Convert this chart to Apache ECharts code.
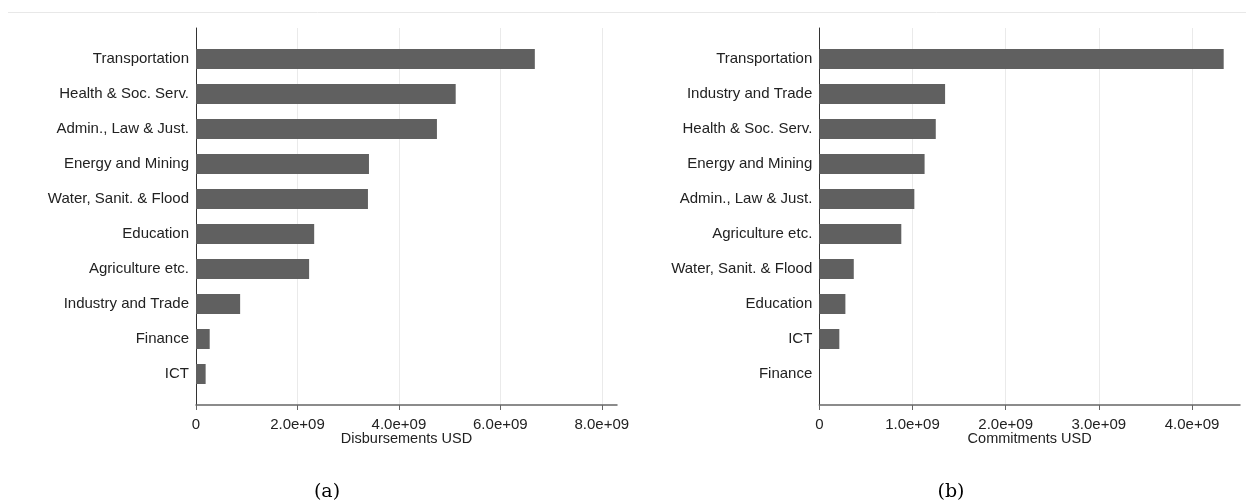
<!DOCTYPE html>
<html>
<head>
<meta charset="utf-8">
<script src="https://cdn.jsdelivr.net/npm/echarts@6/dist/echarts.min.js"></script>
<style>
  html, body { margin: 0; padding: 0; background: #fff; }
  #chart { width: 1246px; height: 503px; }
</style>
</head>
<body>
<div id="chart"></div>
<script>
// panel (a): disbursements, top to bottom
var sectorsA = ["Transportation", "Health & Soc. Serv.", "Admin., Law & Just.", "Energy and Mining",
  "Water, Sanit. & Flood", "Education", "Agriculture etc.", "Industry and Trade", "Finance", "ICT"];
var disbursements = [6.68e9, 5.12e9, 4.75e9, 3.41e9, 3.39e9, 2.33e9, 2.23e9, 0.87e9, 0.27e9, 0.19e9];

// panel (b): commitments, top to bottom
var sectorsB = ["Transportation", "Industry and Trade", "Health & Soc. Serv.", "Energy and Mining",
  "Admin., Law & Just.", "Agriculture etc.", "Water, Sanit. & Flood", "Education", "ICT", "Finance"];
var commitments = [4.34e9, 1.35e9, 1.25e9, 1.13e9, 1.02e9, 0.88e9, 0.37e9, 0.28e9, 0.215e9, 0];

var captions = ["(a)", "(b)"];

var barColor = "#606060";
var textColor = "#222";
var font = "Liberation Sans, Arial, sans-serif";

function sci(v) {
  if (v === 0) return "0";
  return (v / 1e9).toFixed(1) + "e+09";
}

// axis grid: ticks, labels, gridlines, y axis line
function tickAxis(gridIndex, max, interval) {
  return {
    type: "value", gridIndex: gridIndex, min: 0, max: max, interval: interval,
    axisLine: { show: false },
    axisTick: { show: true, length: 5, lineStyle: { color: "#666" } },
    axisLabel: { margin: 12, color: textColor, fontSize: 15, fontFamily: font, formatter: sci },
    splitLine: { show: true, lineStyle: { color: "#eaeaea", width: 1 } }
  };
}
// bar grid: the x axis line and its title
function barAxis(gridIndex, max, name) {
  return {
    type: "value", gridIndex: gridIndex, min: 0, max: max, offset: 13.5,
    name: name, nameLocation: "middle", nameGap: 26,
    nameTextStyle: { color: textColor, fontSize: 14.5, fontFamily: font },
    axisLine: { show: true, onZero: false, lineStyle: { color: "#666", width: 1.5 } },
    axisTick: { show: false },
    axisLabel: { show: false },
    splitLine: { show: false }
  };
}
function frameY(gridIndex) {
  return {
    type: "value", gridIndex: gridIndex, min: 0, max: 1,
    axisLine: { show: true, lineStyle: { color: "#333", width: 1 } },
    axisTick: { show: false }, axisLabel: { show: false }, splitLine: { show: false }
  };
}
function catY(gridIndex, cats) {
  return {
    type: "category", gridIndex: gridIndex, data: cats, inverse: true,
    axisLine: { show: false }, axisTick: { show: false },
    axisLabel: { margin: 7, padding: [5, 0, 0, 0], color: textColor, fontSize: 15, fontFamily: font },
    splitLine: { show: false }
  };
}

var myChart = echarts.init(document.getElementById("chart"));
myChart.setOption({
  animation: false,
  backgroundColor: "#fff",
  title: [
    { text: captions[0], left: 322, top: 478, textAlign: "center",
      textStyle: { fontFamily: "DejaVu Serif, serif", fontWeight: "normal", fontSize: 19, color: "#000" } },
    { text: captions[1], left: 946, top: 478, textAlign: "center",
      textStyle: { fontFamily: "DejaVu Serif, serif", fontWeight: "normal", fontSize: 19, color: "#000" } }
  ],
  graphic: [
    { type: "line", shape: { x1: 8, y1: 12.5, x2: 1246, y2: 12.5 }, style: { stroke: "#e8e8e8", lineWidth: 1 } }
  ],
  grid: [
    { left: 196, right: 644.2, top: 28, bottom: 98 },
    { left: 196, right: 629, top: 41.5, bottom: 111.5 },
    { left: 819.3, right: 54, top: 28, bottom: 98 },
    { left: 819.3, right: 6, top: 41.5, bottom: 111.5 }
  ],
  xAxis: [
    tickAxis(0, 8e9, 2e9),
    barAxis(1, 8.3e9, "Disbursements USD"),
    tickAxis(2, 4e9, 1e9),
    barAxis(3, 4.515e9, "Commitments USD")
  ],
  yAxis: [
    frameY(0),
    catY(1, sectorsA),
    frameY(2),
    catY(3, sectorsB)
  ],
  series: [
    { type: "bar", xAxisIndex: 1, yAxisIndex: 1, data: disbursements, barWidth: 20,
      itemStyle: { color: barColor } },
    { type: "bar", xAxisIndex: 3, yAxisIndex: 3, data: commitments, barWidth: 20,
      itemStyle: { color: barColor } }
  ]
});
</script>
</body>
</html>
